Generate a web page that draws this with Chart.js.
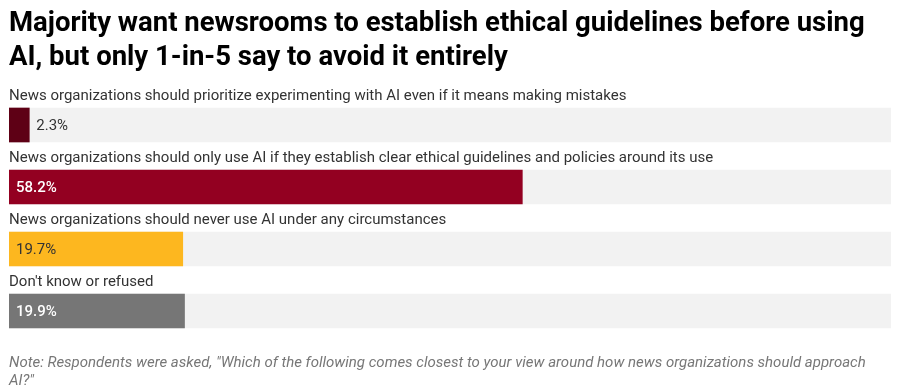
<!DOCTYPE html>
<html><head><meta charset="utf-8">
<script src="https://cdn.jsdelivr.net/npm/chart.js@4"></script>
<style>
html,body{margin:0;padding:0;background:#fff;}
body{width:904px;height:391px;position:relative;overflow:hidden;font-family:Roboto,sans-serif;}
#title{position:absolute;left:9px;top:5px;width:870px;font-weight:700;font-size:27.5px;line-height:34px;color:#000;}
#note{position:absolute;left:9px;top:353px;width:875px;font-style:italic;font-size:15px;line-height:18px;color:#777;}
#wrap{position:absolute;left:0;top:0;width:904px;height:391px;}
</style></head><body>
<div id="wrap"><canvas id="c" width="904" height="391"></canvas></div>
<div id="title">Majority want newsrooms to establish ethical guidelines before using AI, but only 1-in-5 say to avoid it entirely</div>
<div id="note">Note: Respondents were asked, "Which of the following comes closest to your view around how news organizations should approach AI?"</div>
<script>
const categories = [
  "News organizations should prioritize experimenting with AI even if it means making mistakes",
  "News organizations should only use AI if they establish clear ethical guidelines and policies around its use",
  "News organizations should never use AI under any circumstances",
  "Don't know or refused"
];
const values = [2.3, 58.2, 19.7, 19.9];
const barColors = ["#5e0015", "#930021", "#fdb71f", "#767676"];
const labelColors = ["#333333", "#ffffff", "#333333", "#ffffff"];
const labelWeights = ["400", "500", "400", "500"];
const trackValues = categories.map(() => 100);

const labelPlugin = {
  id: 'labels',
  afterDatasetsDraw(chart) {
    const ctx = chart.ctx;
    const meta = chart.getDatasetMeta(0);
    ctx.save();
    meta.data.forEach((bar, i) => {
      const top = bar.y - bar.height / 2;
      ctx.font = '400 15px Roboto';
      ctx.fillStyle = '#333';
      ctx.textBaseline = 'alphabetic';
      ctx.textAlign = 'left';
      ctx.fillText(categories[i], chart.chartArea.left, top - 8);
      const txt = values[i].toFixed(1) + '%';
      ctx.font = labelWeights[i] + ' 15px Roboto';
      ctx.textBaseline = 'middle';
      ctx.fillStyle = labelColors[i];
      const w = bar.x - bar.base;
      let x = chart.chartArea.left + 7;
      if (w < 45) { x = bar.x + 7; ctx.fillStyle = '#333'; }
      ctx.fillText(txt, x, bar.y + 1);
    });
    ctx.restore();
  }
};

new Chart(document.getElementById('c'), {
  type: 'bar',
  data: {
    labels: categories,
    datasets: [
      { data: values, backgroundColor: barColors, barThickness: 34, grouped: false, order: 0 },
      { data: trackValues, backgroundColor: '#f2f2f2', barThickness: 34, grouped: false, order: 1 }
    ]
  },
  options: {
    indexAxis: 'y',
    responsive: false,
    animation: false,
    events: [],
    layout: { padding: { left: 9, right: 13, top: 94, bottom: 49 } },
    scales: {
      x: { display: false, min: 0, max: 100 },
      y: { display: false }
    },
    plugins: { legend: { display: false }, tooltip: { enabled: false }, title: { display: false } }
  },
  plugins: [labelPlugin]
});
</script>
</body></html>
